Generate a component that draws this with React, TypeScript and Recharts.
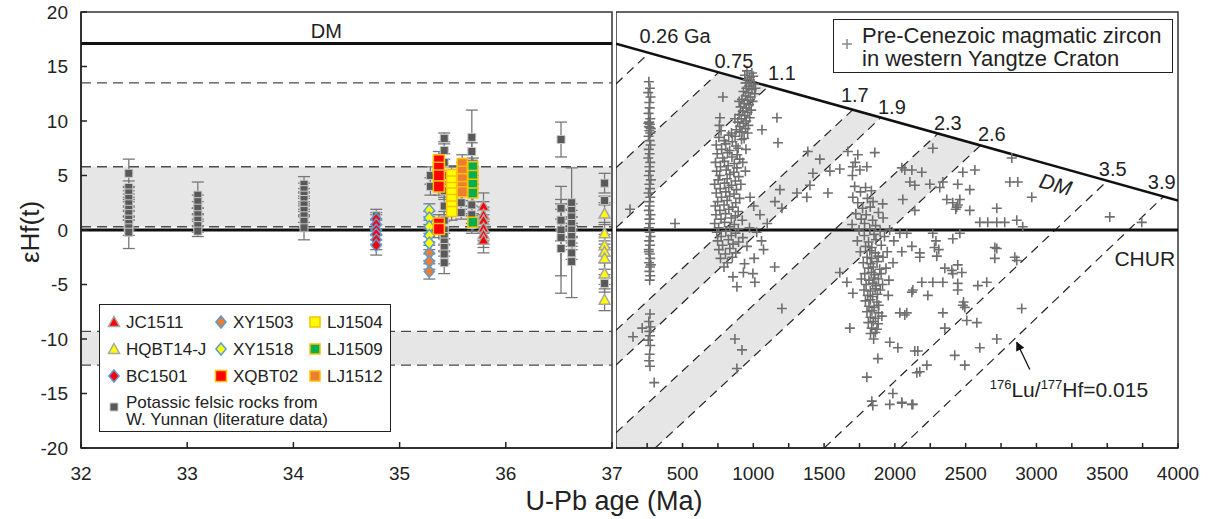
import React from "react";
import {
  ScatterChart,
  ComposedChart,
  Scatter,
  Line,
  Area,
  XAxis,
  YAxis,
  ReferenceArea,
  ReferenceLine,
  ErrorBar,
} from "recharts";

const FONT = '"Liberation Sans", Arial, Helvetica, sans-serif';
const INK = "#222";
const BAND = "#e6e6e6";
const DASH = "#4a4a4a";
const CROSS = "#6f6f6f";

const Y_TICKS = [-20, -15, -10, -5, 0, 5, 10, 15, 20];
const LEFT_TICKS = [32, 33, 34, 35, 36, 37];
const RIGHT_TICKS = [250, 500, 750, 1000, 1250, 1500, 1750, 2000, 2250, 2500, 2750, 3000, 3250, 3500, 3750, 4000];

// ---------- left panel: Cenozoic potassic rocks ----------
const DM_NOW = 17.1;
const DASHED_LEVELS = [13.5, 5.8, 0.3, -9.3, -12.4];
const GRAY_BANDS = [
  [0.3, 5.8],
  [-12.4, -9.3],
];

const SAMPLE_NAMES = ["JC1511", "HQBT14-J", "BC1501", "XY1503", "XY1518", "XQBT02", "LJ1504", "LJ1509", "LJ1512"];
const SAMPLE_AGES = [35.79, 36.93, 34.78, 35.28, 35.28, 35.37, 35.49, 35.69, 35.59];
const SAMPLE_EHF = [
  [2.2, 1.4, 0.9, 0.2, -0.4, -0.9],
  [1.5, -0.3, -1.4, -2.0, -2.6, -4.0, -6.4],
  [1.0, 0.5, 0.0, -0.4, -0.9, -1.4],
  [-2.1, -2.9, -3.8],
  [1.8, 1.1, 0.3, -0.5, -1.2],
  [6.4, 5.7, 5.0, 4.0, 0.6, 0.1],
  [5.1, 4.5, 3.9, 3.4, 2.8, 2.2, 1.7],
  [5.8, 5.0, 4.2, 3.4, 0.7],
  [6.1, 5.4, 4.7, 4.0, 3.5],
];
const SAMPLE_ERR = [1.2, 1.0, 0.9, 0.7, 0.6, 0.8, 0.8, 0.8, 0.8];
// drawing order (later = on top)
const SAMPLE_ORDER = ["BC1501", "XY1503", "XY1518", "XQBT02", "LJ1504", "LJ1512", "LJ1509", "JC1511", "HQBT14-J"];

// literature data, W. Yunnan
const LIT_AGES = [32.45, 33.1, 34.1, 34.78, 35.29, 35.42, 35.58, 35.68, 36.52, 36.62, 36.93];
const LIT_EHF = [
  [5.2, 3.9, 3.4, 2.9, 2.4, 1.9, 1.5, 1.0, 0.6, 0.2, -0.2],
  [3.2, 2.6, 2.0, 1.4, 0.9, 0.4, -0.1],
  [4.2, 3.7, 3.2, 2.8, 2.3, 1.8, 1.3, 0.8, 0.2],
  [1.3],
  [5.0, 4.0],
  [8.4, 7.3, 6.2, 5.0, 3.6, 2.2, 0.9, 0.0, -0.6, -1.1, -1.6, -2.2, -3.0],
  [2.5, 1.6],
  [8.5, 7.2, 2.3, 1.4, 0.5],
  [8.3, 2.0, 0.9, 0.0, -0.7, -1.7],
  [2.5, 1.8, 1.2, 0.6, 0.0, -0.6, -1.2, -2.1, -2.9],
  [4.3, 2.7, -4.9],
];
const LIT_ERR = [
  [1.3, 0.6, 0.6, 0.7, 0.6, 0.7, 0.6, 0.7, 0.6, 0.7, 1.5],
  [1.2, 0.6, 0.6, 0.6, 0.6, 0.6, 0.5],
  [0.7, 0.6, 0.6, 0.6, 0.6, 0.6, 0.6, 0.6, 1.1],
  [0.3],
  [0.8, 0.8],
  [0.5, 0.8, 0.8, 0.8, 0.8, 0.8, 0.8, 0.8, 0.8, 0.8, 0.8, 0.9, 1.0],
  [0.6, 0.6],
  [2.5, 0.8, 0.8, 0.8, 0.8],
  [1.6, 2.0, 1.0, 1.0, 3.5, 4.1],
  [3.2, 0.6, 0.6, 0.6, 0.6, 0.6, 0.6, 0.6, 3.3],
  [0.9, 0.4, 0.8],
];

const LEFT_LABELS = [{ x: 34.31, y: 17.6, text: "DM" }];

// ---------- right panel: pre-Cenozoic zircon, western Yangtze ----------
const DM_LINE = [
  [30, 17.1],
  [4000, 2.7],
];
// crustal evolution lines (176Lu/177Hf = 0.015) from the DM curve
const CRUST_LINES = [
  [[30, 13.4], [260, 16.2]],
  [[30, 5.7], [750, 14.4]],
  [[30, 0.2], [1100, 13.1]],
  [[30, -9.2], [1700, 11.0]],
  [[30, -12.4], [1900, 10.3]],
  [[30, -18.6], [2300, 8.8]],
  [[307, -20], [2600, 7.7]],
  [[1500, -20], [3500, 4.5]],
  [[2040, -20], [3900, 3.1]],
];
// shaded strips [age, low, high]
const STRIPS = [
  [[30, 0.2, 5.7], [750, 8.9, 14.4], [1100, 13.1, 13.1]],
  [[30, -12.4, -9.2], [1700, 7.8, 11.0], [1900, 10.3, 10.3]],
  [[30, -20, -18.6], [307, -20, -15.3], [2300, 4.1, 8.8], [2600, 7.7, 7.7]],
];
const AGE_LABELS = [
  { t: 447, e: 17.2, text: "0.26 Ga" },
  { t: 863, e: 14.9, text: "0.75" },
  { t: 1202, e: 13.8, text: "1.1" },
  { t: 1717, e: 11.7, text: "1.7" },
  { t: 1979, e: 10.6, text: "1.9" },
  { t: 2374, e: 9.2, text: "2.3" },
  { t: 2685, e: 8.2, text: "2.6" },
  { t: 3539, e: 5.0, text: "3.5" },
  { t: 3885, e: 3.8, text: "3.9" },
];
const CHUR_LABEL = [{ t: 3765, e: -3.3, text: "CHUR" }];
const DM_TAG = [{ t: 3136, e: 4.2, text: "DM" }];
const LUHF_NOTE = [{ t: 2670, e: -15.3 }];
const ARROW = [
  [2953, -12.8],
  [2861, -10.3],
];

const ZIRCON_PERMIAN = [
  [262, 13.6], [270, 13.0], [258, 12.6], [274, 12.2], [265, 11.7], [268, 11.2], [260, 10.7], [272, 10.2],
  [264, 9.9], [270, 9.7], [262, 9.5], [276, 9.3], [266, 9.1], [258, 9.8], [272, 8.9], [268, 9.4],
  [260, 8.6], [268, 8.2], [274, 7.8], [262, 7.4], [268, 7.0], [258, 6.6], [272, 6.2], [266, 5.8],
  [270, 5.4], [262, 5.0], [276, 4.6], [266, 4.2], [270, 3.8], [260, 3.4], [272, 3.0], [266, 2.6],
  [268, 2.2], [262, 1.8], [274, 1.4], [266, 1.0], [270, 0.6], [262, 0.2], [268, -0.2], [274, -0.6],
  [264, -1.0], [270, -1.4], [262, -1.8], [268, -2.2], [272, -2.6], [264, -3.0], [270, -3.4], [266, -3.8],
  [272, -4.2], [268, -4.6], [262, -2.0], [276, -3.2], [270, -7.7], [262, -8.4], [274, -8.9], [266, -9.3],
  [270, -9.7], [258, -10.1], [272, -10.6], [268, -11.4], [264, -12.0], [270, -12.5], [300, -14.0],
  [150, -9.8], [215, -9.0], [129, 1.9], [447, 0.6],
];
const ZIRCON_NEOPRO = [
  [990, 14.4], [1000, 14.1], [975, 14.0], [960, 13.8], [985, 13.6], [945, 13.5], [1005, 13.4], [970, 13.2],
  [950, 13.0], [990, 12.9], [930, 12.7], [965, 12.6], [1010, 12.5], [945, 12.3], [980, 12.2], [920, 12.0],
  [960, 11.9], [995, 11.8], [935, 11.6], [970, 11.5], [910, 11.3], [950, 11.2], [985, 11.0], [925, 10.9],
  [960, 10.8], [900, 10.6], [940, 10.5], [975, 10.3], [915, 10.2], [950, 10.0], [890, 9.9], [930, 9.8],
  [965, 9.6], [905, 9.5], [945, 9.3], [880, 9.2], [920, 9.0], [960, 8.9], [955, 14.6], [940, 14.2],
  [1015, 13.0], [900, 11.8], [870, 10.2], [785, 12.2], [764, 10.3], [760, 9.6],
  [1167, 10.3], [1061, 9.2], [1174, 8.0], [1385, 7.2], [1470, 6.5], [1421, 5.2], [1541, 5.4], [1611, 5.6],
  [1188, 3.7], [1308, 3.4], [1378, 3.0], [1527, 3.4], [1153, 2.6], [1202, 2.0], [1400, 4.1],
  [772, 9.1], [846, 8.9], [903, 9.0], [757, 8.5], [826, 8.7], [871, 8.6], [935, 8.4], [795, 8.2],
  [852, 8.1], [917, 8.3], [738, 7.8], [805, 7.9], [878, 7.7], [776, 7.4], [833, 7.3], [893, 7.5],
  [948, 7.4], [745, 7.0], [818, 7.1], [886, 6.9], [784, 6.6], [849, 6.7], [904, 6.5], [733, 6.2],
  [796, 6.3], [866, 6.1], [925, 6.2], [768, 5.8], [822, 5.9], [884, 5.7], [741, 5.4], [809, 5.5],
  [862, 5.3], [944, 5.4], [763, 5.0], [835, 5.1], [897, 4.9], [752, 4.6], [815, 4.7], [873, 4.5],
  [727, 4.2], [797, 4.3], [846, 4.1], [912, 4.2], [766, 3.8], [826, 3.9], [881, 3.7], [738, 3.4],
  [806, 3.5], [864, 3.3], [775, 3.0], [832, 3.1], [903, 2.9], [977, 3.0], [748, 2.6], [815, 2.7],
  [876, 2.5], [731, 2.2], [793, 2.3], [853, 2.1], [1003, 2.2], [764, 1.8], [827, 1.9], [893, 1.7],
  [736, 1.4], [804, 1.5], [873, 1.3], [1047, 1.4], [772, 1.0], [845, 1.1], [922, 0.9], [727, 0.6],
  [797, 0.7], [866, 0.5], [1098, 0.6], [755, 0.2], [834, 0.3], [894, 0.1], [973, 0.2], [742, -0.2],
  [806, -0.1], [875, -0.3], [1024, -0.2], [773, -0.6], [845, -0.5], [926, -0.7], [748, -1.0], [824, -0.9],
  [896, -1.1], [1058, -1.0], [783, -1.4], [857, -1.3], [955, -1.5], [757, -1.8], [834, -1.7], [1072, -1.8],
  [803, -2.2], [876, -2.1], [768, -2.6], [852, -2.5], [1006, -2.6], [817, -3.0], [938, -3.1], [793, -3.4],
  [1151, -3.4], [930, -3.9], [997, -4.0], [856, -4.3], [1011, -4.8], [884, -5.2], [1202, -7.2],
  [870, -10.0], [920, -11.0], [884, -12.7],
];
const ZIRCON_PALEOPRO = [
  [1668, 7.2], [1738, 6.9], [1858, 7.1], [1720, 6.2], [1753, 5.5], [1703, 5.8], [1802, 5.8], [1700, 5.0],
  [1716, 4.0], [1793, 3.9], [1757, 3.5], [1834, 3.6], [1703, 3.0], [1806, 2.9], [1738, 2.5], [1846, 2.6],
  [1914, 2.4], [1772, 2.0], [1826, 2.1], [1724, 1.5], [1797, 1.4], [1884, 1.6], [1762, 1.0], [1843, 0.9],
  [1917, 1.1], [1698, 0.5], [1786, 0.6], [1864, 0.4], [1747, 0.0], [1823, 0.1], [1896, -0.1], [1963, 0.0],
  [1784, -0.5], [1853, -0.4], [1927, -0.6], [1735, -1.0], [1814, -1.1], [1866, -0.9], [1993, -1.0],
  [1793, -1.5], [1837, -1.6], [1904, -1.4], [1756, -2.0], [1823, -1.9], [1862, -2.1], [1946, -2.0],
  [1804, -2.5], [1836, -2.6], [1883, -2.4], [1916, -2.5], [1777, -3.0], [1828, -3.1], [1874, -2.9],
  [1987, -3.0], [1813, -3.5], [1847, -3.4], [1893, -3.6], [1937, -3.5], [1787, -4.0], [1834, -3.9],
  [1858, -4.1], [1903, -4.0], [1763, -4.5], [1817, -4.6], [1853, -4.4], [1884, -4.5], [1958, -4.6],
  [1797, -5.0], [1843, -4.9], [1867, -5.1], [1913, -5.0], [1782, -5.5], [1826, -5.6], [1862, -5.4],
  [1897, -5.5], [1808, -6.0], [1843, -6.1], [1877, -5.9], [1953, -6.0], [1792, -6.5], [1827, -6.4],
  [1873, -6.6], [1817, -7.0], [1853, -7.1], [1886, -6.9], [1803, -7.5], [1838, -7.4], [1884, -7.6],
  [1827, -8.0], [1863, -8.1], [1908, -7.9], [1812, -8.5], [1847, -8.4], [1882, -8.6], [1682, -9.0],
  [1836, -9.0], [1873, -9.1], [1828, -9.5], [1862, -9.4], [1850, -10.0], [1964, -10.3], [2021, -10.8],
  [2141, -11.1], [1880, -11.8], [2155, -13.1], [1802, -13.5], [1986, -15.0], [1837, -15.7], [1844, -16.1],
  [1964, -16.0], [2049, -15.8], [2120, -16.0], [1661, -4.8], [1703, -5.8], [1611, -3.9], [2120, -5.7],
  [2035, -7.6], [2084, -7.6],
];
const ZIRCON_ARCHEAN = [
  [2268, 7.5], [2049, 5.7], [2120, 5.5], [2190, 5.3], [2106, 4.4], [2247, 4.2], [2339, 4.4], [2480, 5.3],
  [2565, 5.5], [2444, 4.2], [2529, 3.7], [2317, 3.9], [2367, 2.8], [2409, 2.5], [2437, 2.1], [2445, 2.3],
  [2430, 1.9], [2459, 2.8], [2529, 1.8], [2720, 2.0], [2812, 4.4], [2868, 4.4], [2967, 3.0], [2826, 6.6],
  [2600, 0.7], [2656, 0.7], [2720, 0.7], [2776, 0.7], [2861, 0.9], [2903, 0.3], [3518, 1.2], [3744, 0.7],
  [2070, 5.5], [2141, 4.1], [2056, 2.8], [2141, 1.8], [2084, -0.3], [2035, -0.3], [2120, -1.5],
  [2176, -2.1], [2268, -0.3], [2290, -1.0], [2310, -1.8], [2296, -2.4], [2409, -0.8], [2459, -0.3],
  [2706, -1.6], [2847, -2.5], [2049, -2.0], [2280, -1.6], [2176, -2.5], [2353, -3.5], [2402, -3.7],
  [2444, -3.2], [2473, -3.9], [2409, -4.0], [2190, -4.8], [2268, -4.8], [2339, -4.8], [2444, -4.9],
  [2444, -5.5], [2127, -5.5], [2233, -6.0], [2649, -4.8], [2586, -5.1], [2480, -6.9], [2485, -6.6],
  [2494, -7.1], [2339, -7.6], [2508, -8.3], [2579, -8.5], [2353, -9.0], [2896, -7.2], [2720, -1.7],
  [2706, -2.6], [2861, -2.8], [2070, -7.8], [2162, -11.1], [2226, -12.4], [2176, -13.0], [2423, -11.5],
  [2494, -12.4], [2600, -10.8], [2720, -10.0], [2049, -15.9], [2127, -16.0],
];

// ---------- styling ----------
type Kind = "square" | "diamond" | "triangle";
const SAMPLE_STYLE: Record<string, { kind: Kind; fill: string; stroke: string; size: number }> = {
  JC1511: { kind: "triangle", fill: "#ff0000", stroke: "#a6a6a6", size: 11 },
  "HQBT14-J": { kind: "triangle", fill: "#ffff00", stroke: "#a6a6a6", size: 11 },
  BC1501: { kind: "diamond", fill: "#ff0000", stroke: "#5b9bd5", size: 12 },
  XY1503: { kind: "diamond", fill: "#ed7d31", stroke: "#5b9bd5", size: 12 },
  XY1518: { kind: "diamond", fill: "#ffff00", stroke: "#5b9bd5", size: 12 },
  XQBT02: { kind: "square", fill: "#ff0000", stroke: "#ffc000", size: 11 },
  LJ1504: { kind: "square", fill: "#ffff00", stroke: "#ffc000", size: 10 },
  LJ1509: { kind: "square", fill: "#00b050", stroke: "#ffc000", size: 10 },
  LJ1512: { kind: "square", fill: "#ed7d31", stroke: "#ffc000", size: 10 },
};

function markerPath(kind: Kind, cx: number, cy: number, s: number) {
  const h = s / 2;
  if (kind === "square") return `M${cx - h},${cy - h}h${s}v${s}h${-s}Z`;
  if (kind === "diamond") return `M${cx},${cy - h}L${cx + h * 0.85},${cy}L${cx},${cy + h}L${cx - h * 0.85},${cy}Z`;
  return `M${cx},${cy - h}L${cx + h},${cy + h * 0.8}L${cx - h},${cy + h * 0.8}Z`;
}

const crossPath = (cx: number, cy: number) => `M${cx - 5},${cy}H${cx + 5}M${cx},${cy - 5}V${cy + 5}`;

const axisTick = { fontSize: 19, fill: INK, fontFamily: FONT };
const axisStroke = { stroke: INK, strokeWidth: 1.5 };

const litData = LIT_AGES.flatMap((x, i) => LIT_EHF[i].map((y, j) => ({ x, y, err: LIT_ERR[i][j] })));
const sampleData = (name: string) => {
  const i = SAMPLE_NAMES.indexOf(name);
  return SAMPLE_EHF[i].map((y) => ({ x: SAMPLE_AGES[i], y, err: SAMPLE_ERR[i] }));
};
const zirconData = [...ZIRCON_PERMIAN, ...ZIRCON_NEOPRO, ...ZIRCON_PALEOPRO, ...ZIRCON_ARCHEAN].map(([t, e]) => ({ t, e }));

const LeftPanel = () => (
  <ScatterChart width={640} height={519} margin={{ top: 12, right: 28, bottom: 41, left: 0 }}>
    <XAxis
      type="number"
      dataKey="x"
      domain={[32, 37]}
      ticks={LEFT_TICKS}
      allowDataOverflow
      height={30}
      tickSize={-6}
      tickMargin={25}
      tick={axisTick}
      axisLine={axisStroke}
      tickLine={axisStroke}
    />
    <YAxis
      type="number"
      dataKey="y"
      domain={[-20, 20]}
      ticks={Y_TICKS}
      allowDataOverflow
      width={81}
      tickSize={-6}
      tickMargin={19}
      tick={axisTick}
      axisLine={axisStroke}
      tickLine={axisStroke}
    />
    {GRAY_BANDS.map(([lo, hi], i) => (
      <ReferenceArea key={`b${i}`} y1={lo} y2={hi} fill={BAND} fillOpacity={1} stroke="none" />
    ))}
    {DASHED_LEVELS.map((v) => (
      <ReferenceLine key={`d${v}`} y={v} stroke={DASH} strokeWidth={1.4} strokeDasharray="10 6" />
    ))}
    <ReferenceLine y={DM_NOW} stroke="#111" strokeWidth={3} />
    <ReferenceLine y={0} stroke="#111" strokeWidth={3} />
    <ReferenceArea x1={32} x2={37} y1={-20} y2={20} fill="none" stroke="#333" strokeWidth={1.5} />
    <Scatter
      data={litData}
      isAnimationActive={false}
      shape={(p: any) => (
        <path d={markerPath("square", p.cx, p.cy, 8)} fill="#595959" stroke="#c8c8c8" strokeWidth={1} />
      )}
    >
      <ErrorBar dataKey="err" direction="y" width={6} stroke="#777" strokeWidth={1.3} />
    </Scatter>
    {SAMPLE_ORDER.map((name) => {
      const st = SAMPLE_STYLE[name];
      return (
        <Scatter
          key={name}
          name={name}
          data={sampleData(name)}
          isAnimationActive={false}
          shape={(p: any) => (
            <path d={markerPath(st.kind, p.cx, p.cy, st.size)} fill={st.fill} stroke={st.stroke} strokeWidth={1.5} />
          )}
        >
          <ErrorBar dataKey="err" direction="y" width={6} stroke="#777" strokeWidth={1.3} />
        </Scatter>
      );
    })}
    <Scatter
      data={LEFT_LABELS}
      isAnimationActive={false}
      shape={(p: any) => (
        <text x={p.cx} y={p.cy} textAnchor="middle" fontSize={20} fontFamily={FONT} fill={INK}>
          {p.payload.text}
        </text>
      )}
    />
  </ScatterChart>
);

const RightPanel = () => (
  <ComposedChart width={593} height={519} margin={{ top: 12, right: 31, bottom: 41, left: 0 }}>
    <defs>
      <marker id="arrowHead" viewBox="0 0 10 10" refX="9" refY="5" markerWidth="11" markerHeight="9" markerUnits="userSpaceOnUse" orient="auto">
        <path d="M0,0L10,5L0,10z" fill="#111" />
      </marker>
    </defs>
    <XAxis
      type="number"
      dataKey="t"
      domain={[30, 4000]}
      ticks={RIGHT_TICKS}
      allowDataOverflow
      height={30}
      tickSize={-5}
      tickMargin={24}
      tick={axisTick}
      tickFormatter={(v: number) => (v % 500 === 0 ? String(v) : "")}
      axisLine={axisStroke}
      tickLine={axisStroke}
    />
    <YAxis type="number" dataKey="e" domain={[-20, 20]} allowDataOverflow hide />
    {STRIPS.map((s, i) => (
      <Area
        key={`s${i}`}
        data={s.map(([t, lo, hi]) => ({ t, r: [lo, hi] }))}
        dataKey="r"
        type="linear"
        stroke="none"
        fill={BAND}
        fillOpacity={1}
        dot={false}
        activeDot={false}
        isAnimationActive={false}
      />
    ))}
    {CRUST_LINES.map((l, i) => (
      <Line
        key={`c${i}`}
        data={l.map(([t, e]) => ({ t, e }))}
        dataKey="e"
        type="linear"
        stroke="#222"
        strokeWidth={1.2}
        strokeDasharray="9 6"
        dot={false}
        activeDot={false}
        isAnimationActive={false}
      />
    ))}
    <Line
      data={DM_LINE.map(([t, e]) => ({ t, e }))}
      dataKey="e"
      type="linear"
      stroke="#111"
      strokeWidth={2.5}
      dot={false}
      activeDot={false}
      isAnimationActive={false}
    />
    <ReferenceLine y={0} stroke="#111" strokeWidth={3} />
    <ReferenceArea x1={30} x2={4000} y1={-20} y2={20} fill="none" stroke="#333" strokeWidth={1.5} />
    <Scatter
      data={zirconData}
      isAnimationActive={false}
      shape={(p: any) => <path d={crossPath(p.cx, p.cy)} stroke={CROSS} strokeWidth={1.6} fill="none" />}
    />
    <Line
      data={ARROW.map(([t, e]) => ({ t, e }))}
      dataKey="e"
      type="linear"
      stroke="#111"
      strokeWidth={1.3}
      markerEnd="url(#arrowHead)"
      dot={false}
      activeDot={false}
      isAnimationActive={false}
    />
    <Scatter
      data={AGE_LABELS}
      isAnimationActive={false}
      shape={(p: any) => (
        <text x={p.cx} y={p.cy} textAnchor="middle" fontSize={20} fontFamily={FONT} fill={INK}>
          {p.payload.text}
        </text>
      )}
    />
    <Scatter
      data={CHUR_LABEL}
      isAnimationActive={false}
      shape={(p: any) => (
        <text x={p.cx} y={p.cy} textAnchor="middle" fontSize={21} fontFamily={FONT} fill={INK}>
          {p.payload.text}
        </text>
      )}
    />
    <Scatter
      data={DM_TAG}
      isAnimationActive={false}
      shape={(p: any) => (
        <text
          x={p.cx}
          y={p.cy}
          textAnchor="middle"
          dominantBaseline="central"
          fontSize={21}
          fontStyle="italic"
          fontFamily={FONT}
          fill={INK}
          transform={`rotate(15.4 ${p.cx} ${p.cy})`}
        >
          {p.payload.text}
        </text>
      )}
    />
    <Scatter
      data={LUHF_NOTE}
      isAnimationActive={false}
      shape={(p: any) => (
        <text x={p.cx} y={p.cy} fontSize={21} fontFamily={FONT} fill={INK}>
          <tspan fontSize={13} dy={-8}>176</tspan>
          <tspan dy={8}>Lu/</tspan>
          <tspan fontSize={13} dy={-8}>177</tspan>
          <tspan dy={8}>Hf=0.015</tspan>
        </text>
      )}
    />
  </ComposedChart>
);

const legendRowY = [17, 44, 71];
const legendColX = [14, 121, 215];

const LegendIcon = ({ name }: { name: string }) => {
  const st = SAMPLE_STYLE[name];
  return (
    <svg width={16} height={16} style={{ display: "block" }}>
      <path d={markerPath(st.kind, 8, 8, st.size)} fill={st.fill} stroke={st.stroke} strokeWidth={1.5} />
    </svg>
  );
};

export default function App() {
  return (
    <div style={{ position: "absolute", left: 0, top: 0, width: 1209, height: 519, background: "#fff", fontFamily: FONT, color: INK }}>
      <div style={{ position: "absolute", left: 0, top: 0 }}>
        <LeftPanel />
      </div>
      <div style={{ position: "absolute", left: 616, top: 0 }}>
        <RightPanel />
      </div>

      {/* y title */}
      <div
        style={{
          position: "absolute",
          left: 30,
          top: 232,
          transform: "translate(-50%, -50%) rotate(-90deg)",
          fontSize: 26,
          whiteSpace: "nowrap",
        }}
      >
        εHf(t)
      </div>
      {/* x title */}
      <div
        style={{
          position: "absolute",
          left: 614,
          top: 501,
          transform: "translate(-50%, -50%)",
          fontSize: 27,
          whiteSpace: "nowrap",
        }}
      >
        U-Pb age (Ma)
      </div>

      {/* left legend */}
      <div
        style={{
          position: "absolute",
          left: 99,
          top: 304,
          width: 292,
          height: 128,
          border: "1.5px solid #222",
          background: "#fff",
          boxSizing: "border-box",
          fontSize: 17,
        }}
      >
        {SAMPLE_NAMES.map((name, i) => {
          const col = Math.floor(i / 3);
          const row = i % 3;
          return (
            <React.Fragment key={name}>
              <div style={{ position: "absolute", left: legendColX[col] - 8, top: legendRowY[row] - 8 }}>
                <LegendIcon name={name} />
              </div>
              <div
                style={{
                  position: "absolute",
                  left: legendColX[col] + 12,
                  top: legendRowY[row],
                  transform: "translateY(-50%)",
                  whiteSpace: "nowrap",
                  lineHeight: "17px",
                }}
              >
                {name}
              </div>
            </React.Fragment>
          );
        })}
        <svg width={12} height={12} style={{ position: "absolute", left: 8, top: 96 }}>
          <path d={markerPath("square", 6, 6, 8)} fill="#595959" stroke="#c8c8c8" strokeWidth={1} />
        </svg>
        <div style={{ position: "absolute", left: 26, top: 89, lineHeight: "17px", whiteSpace: "nowrap" }}>
          Potassic felsic rocks from
          <br />
          W. Yunnan (literature data)
        </div>
      </div>

      {/* right legend */}
      <div
        style={{
          position: "absolute",
          left: 833,
          top: 19,
          width: 340,
          height: 54,
          border: "1.5px solid #222",
          background: "#fff",
          boxSizing: "border-box",
          fontSize: 22,
        }}
      >
        <svg width={14} height={14} style={{ position: "absolute", left: 6, top: 17 }}>
          <path d={crossPath(7, 7)} stroke="#888" strokeWidth={1.5} fill="none" />
        </svg>
        <div style={{ position: "absolute", left: 28, top: 4, lineHeight: "23px", whiteSpace: "nowrap" }}>
          Pre-Cenezoic magmatic zircon
          <br />
          in western Yangtze Craton
        </div>
      </div>
    </div>
  );
}
